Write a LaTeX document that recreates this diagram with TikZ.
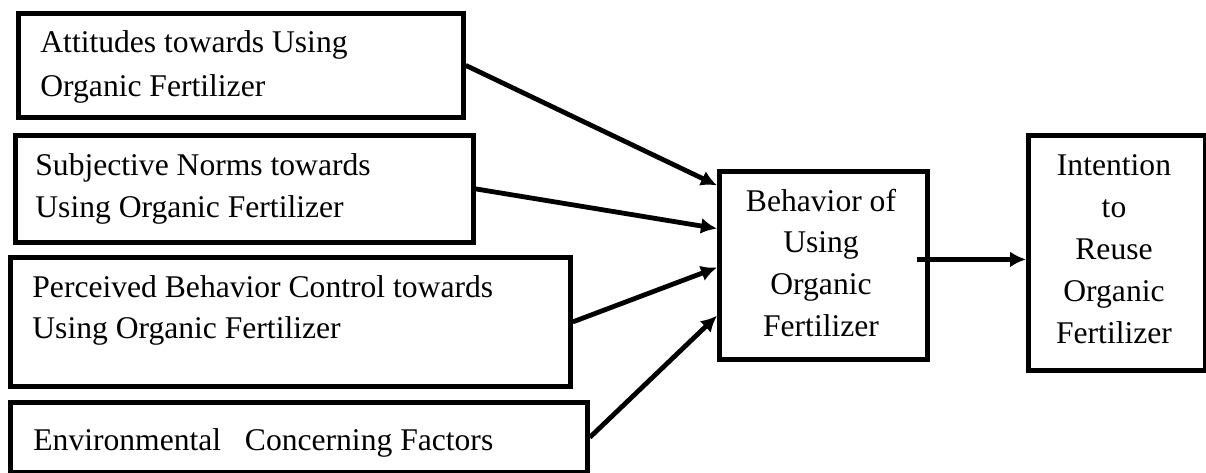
\documentclass[tikz,border=0pt]{standalone}
\usepackage{fontspec}
\setmainfont{Liberation Serif}
\usetikzlibrary{positioning,calc,arrows.meta}
\tikzset{
	cadre/.style={draw,line width=2.4pt,inner sep=0pt,anchor=north west},
	texte/.style={inner sep=0pt,align=left,anchor=base west,font=\fontsize{15.8}{22}\selectfont},
	textec/.style={inner sep=0pt,align=center,anchor=base,font=\fontsize{15.8}{20.8}\selectfont},
	fleche/.style={line width=2.4pt,-{Latex[length=8pt,width=8pt]}}
}

\begin{document}
\begin{tikzpicture}[x=0.5pt,y=-0.5pt]
	\useasboundingbox (0,0) rectangle (1206,472);
	
	%Cadres de gauche
	\node[cadre,minimum width=222.5pt,minimum height=52pt] (att) at (16,11) {};
	\node[cadre,minimum width=229pt,minimum height=53.5pt] (sn) at (13,133) {};
	\node[cadre,minimum width=280pt,minimum height=64.5pt] (pbc) at (8,255) {};
	\node[cadre,minimum width=288.5pt,minimum height=35pt] (ec) at (8,400) {};
	
	%Cadres de droite
	\node[cadre,minimum width=104pt,minimum height=94pt] (beh) at (717,169) {};
	\node[cadre,minimum width=88.5pt,minimum height=117.5pt] (int) at (1026,133) {};
	
	%Textes (ancre sur la derniere ligne)
	\node[texte] (attT) at (40,96) {Attitudes towards Using\\Organic Fertilizer};
	\node[texte,font=\fontsize{15.8}{21}\selectfont] (snT) at (35,217) {Subjective Norms towards\\Using Organic Fertilizer};
	\node[texte,font=\fontsize{15.8}{20.5}\selectfont] (pbcT) at (32,338) {Perceived Behavior Control towards\\Using Organic Fertilizer};
	\node[texte] (ecT) at (33,450) {Environmental~~~Concerning Factors};
	\node[textec] (behT) at (821,336) {Behavior of\\Using\\Organic\\Fertilizer};
	\node[textec,font=\fontsize{15.8}{21}\selectfont] (intT) at (1114,343) {Intention\\to\\Reuse\\Organic\\Fertilizer};
	
	%Fleches
	\draw[fleche] (att.east) -- ($(beh.north west)!0.085!(beh.south west)$);
	\draw[fleche] (sn.east) -- ($(beh.north west)!0.309!(beh.south west)$);
	\draw[fleche] (pbc.east) -- ($(beh.north west)!0.511!(beh.south west)$);
	\draw[fleche] (ec.east) -- ($(beh.north west)!0.761!(beh.south west)$);
	
	\coordinate (depart) at ([xshift=-6.5pt,yshift=3pt]beh.east);
	\draw[fleche] (depart) -- (depart -| int.west);
	
\end{tikzpicture}
\end{document}
